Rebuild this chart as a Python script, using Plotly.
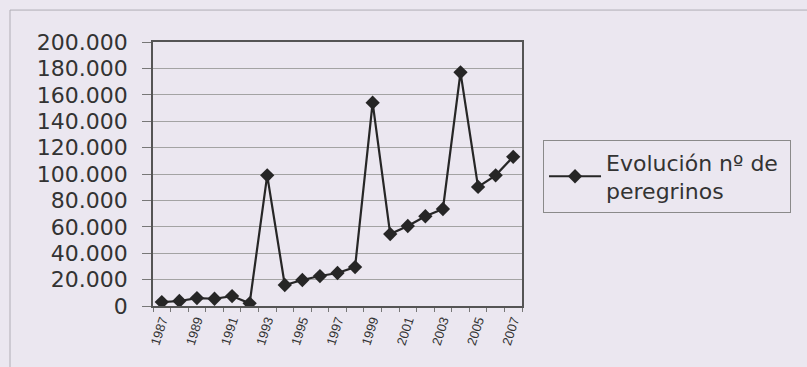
import plotly.graph_objects as go

# Pilgrims recorded per year
years = [str(y) for y in range(1987, 2008)]
pilgrims = [3000, 3800, 6000, 5500, 7500, 2000, 99000, 15900, 19700, 22700,
            25000, 29500, 154000, 54500, 60600, 68000, 73500, 177000, 90200,
            99000, 113000]
y_ticks = list(range(0, 200001, 20000))
y_tick_text = ["0"] + [f"{v // 1000}.000" for v in y_ticks[1:]]
x_tick_text = [y if int(y) % 2 == 1 else "" for y in years]

paper = "#ebe7f0"
ink = "#262626"

fig = go.Figure(
    go.Scatter(
        x=years,
        y=pilgrims,
        mode="lines+markers",
        # a trailing no-break space widens the legend box a little
        name="Evolución nº de\u00a0<br>peregrinos",
        line=dict(color=ink, width=2.2),
        marker=dict(symbol="diamond", size=11, color=ink),
    )
)

fig.update_layout(
    width=807,
    height=367,
    margin=dict(l=153, r=285, t=42, b=61),
    paper_bgcolor=paper,
    plot_bgcolor=paper,
    showlegend=True,
    legend=dict(
        x=1.057,
        y=0.49,
        xanchor="left",
        yanchor="middle",
        bgcolor=paper,
        bordercolor="#8a8a8a",
        borderwidth=1,
        font=dict(family="DejaVu Sans", size=22, color="#333333"),
        itemwidth=52,
        tracegroupgap=0,
    ),
    xaxis=dict(
        type="category",
        range=[-0.5, 20.5],
        tickvals=years,
        ticktext=x_tick_text,
        tickson="boundaries",
        ticks="outside",
        ticklen=4,
        tickcolor="#777777",
        tickangle=-72,
        tickfont=dict(family="Liberation Sans Narrow, Liberation Sans", size=13, color="#333333"),
        showgrid=False,
        showline=True,
        linecolor="#555555",
        linewidth=1.5,
        mirror=True,
        zeroline=False,
    ),
    yaxis=dict(
        range=[0, 200000],
        tickvals=y_ticks,
        ticktext=y_tick_text,
        ticks="outside",
        ticklen=9,
        tickcolor="#777777",
        ticklabelstandoff=10,
        tickfont=dict(family="DejaVu Sans", size=22, color="#333333"),
        showgrid=True,
        gridcolor="#a3a3a3",
        gridwidth=1,
        showline=True,
        linecolor="#555555",
        linewidth=1.5,
        mirror=True,
        zeroline=False,
    ),
    shapes=[
        dict(
            type="rect",
            xref="paper",
            yref="paper",
            x0=-0.3875,
            x1=2.0,
            y0=-1.0,
            y1=1.121,
            line=dict(color="#b0adb5", width=1),
            fillcolor="rgba(0,0,0,0)",
            layer="below",
        )
    ],
)

fig.write_html("out.html")
